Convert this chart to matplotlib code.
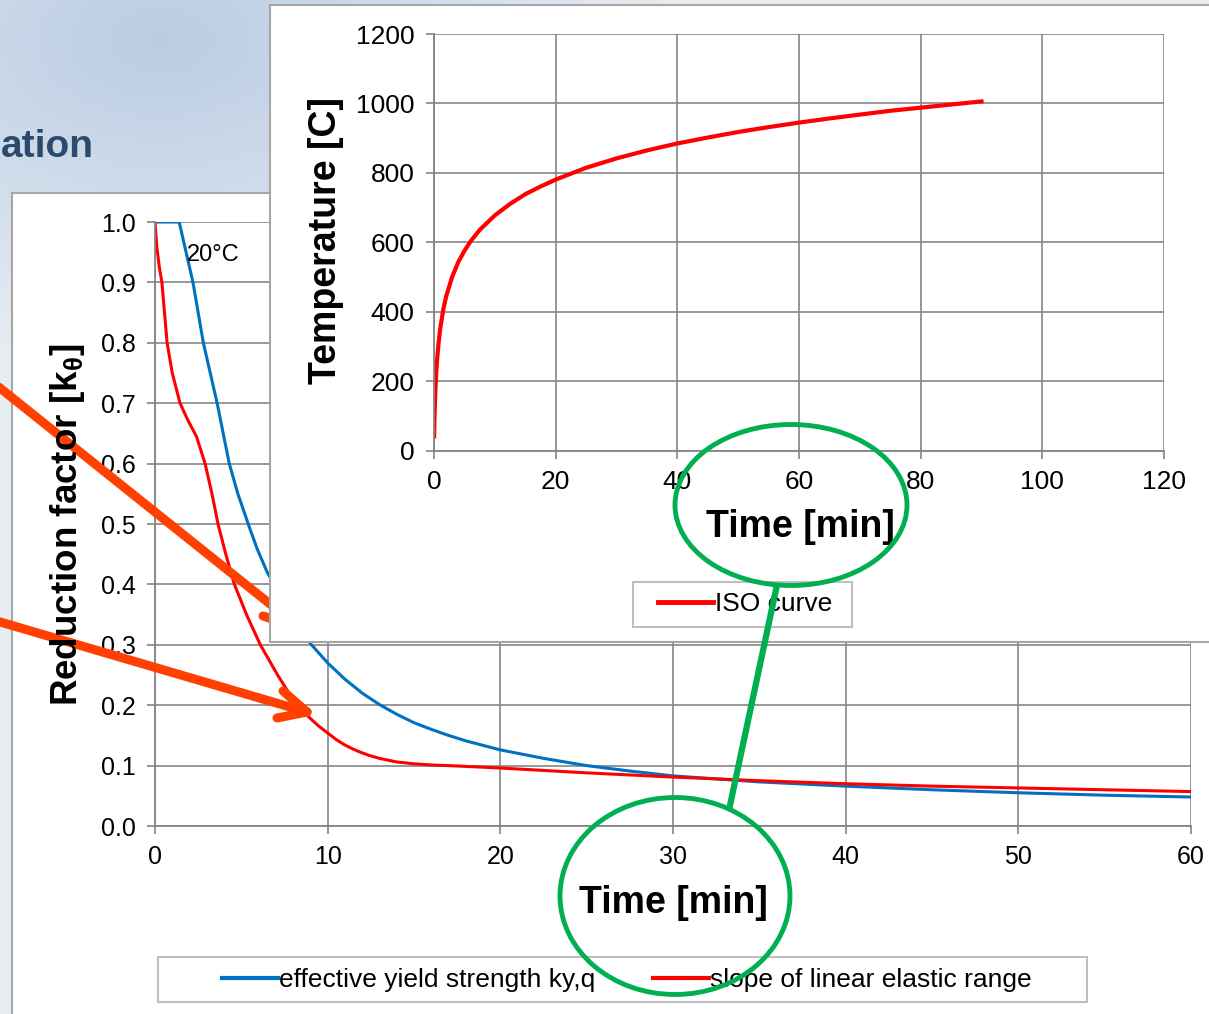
import matplotlib
matplotlib.use('Agg')
import matplotlib.pyplot as plt
import numpy as np
from matplotlib.patches import Rectangle, Ellipse
from matplotlib.ticker import FormatStrFormatter, MultipleLocator

plt.rcParams['font.family'] = ['Liberation Sans', 'DejaVu Sans']
plt.rcParams['mathtext.fontset'] = 'custom'
plt.rcParams['mathtext.bf'] = 'Liberation Sans:bold'
plt.rcParams['mathtext.rm'] = 'Liberation Sans:bold'
plt.rcParams['mathtext.it'] = 'Liberation Sans:bold'

# main chart: reduction factors vs time (min)
time_ky = [0, 1.4, 1.8, 2.2, 2.8, 3.2, 3.6, 3.95, 4.3, 4.8, 5.4, 5.9, 6.5, 7.3, 8.0, 9.0,
           10, 11, 12, 13, 14, 15, 16, 17, 18, 20, 22.5, 25, 27.5, 30, 35, 40, 45, 50,
           55, 60]
ky = [1.0, 1.0, 0.95, 0.9, 0.8, 0.75, 0.7, 0.65, 0.6, 0.55, 0.5, 0.46, 0.42, 0.38, 0.345,
      0.302, 0.27, 0.243, 0.22, 0.201, 0.185, 0.171, 0.16, 0.15, 0.141, 0.126, 0.112,
      0.1, 0.091, 0.083, 0.073, 0.066, 0.06, 0.055, 0.051, 0.048]

time_ke = [0, 0.1, 0.25, 0.4, 0.55, 0.7, 1.0, 1.45, 1.9, 2.4, 2.9, 3.3, 3.65, 4.1, 4.6,
           5.3, 6.1, 7.1, 8.2, 9.0, 9.5, 10, 10.5, 11, 11.5, 12, 12.5, 13, 13.5, 14, 15,
           16, 17, 20, 25, 30, 35, 40, 45, 50, 55, 60]
ke = [1.0, 0.96, 0.925, 0.9, 0.85, 0.8, 0.75, 0.7, 0.672, 0.645, 0.6, 0.55, 0.5, 0.45,
      0.4, 0.35, 0.3, 0.25, 0.2, 0.178, 0.165, 0.154, 0.143, 0.134, 0.127, 0.121, 0.116,
      0.112, 0.109, 0.106, 0.103, 0.101, 0.1, 0.096, 0.088, 0.081, 0.075, 0.07, 0.066,
      0.063, 0.06, 0.057]

# inset: ISO fire curve
time_iso = [0.02, 0.05, 0.1, 0.15, 0.25, 0.35, 0.5, 0.75, 1, 1.5, 2, 3, 4, 5, 6, 7.5, 10,
            12.5, 15, 17.5, 20, 25, 30, 35, 40, 45, 50, 55, 60, 65, 70, 75, 80, 85, 90]
temp_iso = [42, 70, 108, 138, 185, 220, 261, 310, 349, 405, 445, 502, 544, 576, 603, 636,
            678, 711, 739, 761, 781, 815, 842, 865, 885, 902, 918, 932, 945, 957, 968,
            979, 988, 997, 1006]

main_xticks = [0, 10, 20, 30, 40, 50, 60]
inset_xticks = [0, 20, 40, 60, 80, 100, 120]
inset_yticks = [0, 200, 400, 600, 800, 1000, 1200]

W, H = 1209, 1014
grid_c = '#858585'
frame_c = '#BFBFBF'
blue = '#0070C0'
red = '#FF0000'
orange = '#FF4000'
green = '#00B050'


def fbox(l, t, r, b):
    return [l / W, 1 - b / H, (r - l) / W, (b - t) / H]


def style_axes(ax, fs):
    for s in ['top', 'right']:
        ax.spines[s].set_visible(False)
    for s in ['left', 'bottom']:
        ax.spines[s].set_color(grid_c)
        ax.spines[s].set_linewidth(1.3)
    ax.grid(True, color=grid_c, linewidth=1.2)
    ax.set_axisbelow(True)
    ax.tick_params(direction='out', length=6, width=1.2, color=grid_c,
                   labelsize=fs, pad=8)
    ax.set_facecolor('none')


fig = plt.figure(figsize=(W / 100, H / 100), dpi=100)

# background slide + chart panels
bg = fig.add_axes([0, 0, 1, 1], zorder=0)
bg.axis('off')
yy, xx = np.mgrid[0:H, 0:W]
s = np.clip(np.sqrt(((xx - 160) / 520.0) ** 2 + ((yy - 40) / 330.0) ** 2), 0, 1)
dark = np.array([0.73, 0.80, 0.89])
light = np.array([0.91, 0.93, 0.95])
img = dark[None, None, :] * (1 - s[..., None]) + light[None, None, :] * s[..., None]
bg.imshow(img, extent=(0, W, H, 0), aspect='auto')
bg.set_xlim(0, W)
bg.set_ylim(H, 0)
bg.text(1, 157, 'ation', fontsize=28, fontweight='bold', color='#2C4A6E',
        ha='left', va='baseline')
bg.add_patch(Rectangle((12, 193), 1220, 840, facecolor='white', edgecolor='#A6A6A6',
                       linewidth=1.5))
# legend frame of the main chart
bg.add_patch(Rectangle((158, 957), 929, 45, facecolor='white', edgecolor=frame_c,
                       linewidth=1.5))

# main chart
ax = fig.add_axes(fbox(155, 222, 1191, 826), zorder=1)
ax.plot(time_ky, ky, color=blue, linewidth=2.2, label='effective yield strength ky,q')
ax.plot(time_ke, ke, color=red, linewidth=2.2, label='slope of linear elastic range')
ax.set_xlim(0, 60)
ax.set_ylim(0, 1.0)
ax.set_xticks(main_xticks)
ax.yaxis.set_major_locator(MultipleLocator(0.1))
ax.yaxis.set_major_formatter(FormatStrFormatter('%.1f'))
style_axes(ax, 18)
ax.text(1.85, 0.945, '20°C', fontsize=17, ha='left', va='center')
leg = ax.legend(loc='center', bbox_to_anchor=(627 / W, 1 - 980 / H),
                bbox_transform=fig.transFigure, ncol=2, fontsize=19, frameon=False,
                handlelength=2.1, handletextpad=0.05, columnspacing=2.2,
                borderpad=0.45, borderaxespad=0)
for ln in leg.get_lines():
    ln.set_linewidth(3)
fig.text(673 / W, 1 - 903 / H, 'Time [min]', fontsize=27, fontweight='bold',
         ha='center', va='center')
fig.text(68 / W, 1 - 525 / H, r'Reduction factor [k$_{\theta}$]', fontsize=26.5,
         fontweight='bold', rotation=90, ha='center', va='center')

# orange arrows (behind the inset)
ov1 = fig.add_axes([0, 0, 1, 1], zorder=2)
ov1.set_xlim(0, W)
ov1.set_ylim(H, 0)
ov1.axis('off')
ov1.plot([-10, 300], [380, 628], color=orange, linewidth=6.5, solid_capstyle='round')
ov1.plot([300, 263], [628, 616], color=orange, linewidth=6.5, solid_capstyle='round')
ov1.plot([-10, 307], [619, 712], color=orange, linewidth=6.5, solid_capstyle='round')
ov1.plot([307, 283], [712, 691], color=orange, linewidth=6.5, solid_capstyle='round')
ov1.plot([307, 277], [712, 718], color=orange, linewidth=6.5, solid_capstyle='round')
ov1.add_patch(Rectangle((270, 5), 960, 637, facecolor='white', edgecolor='#A6A6A6',
                        linewidth=1.5, zorder=5))
# legend frame of the inset
ov1.add_patch(Rectangle((633, 582), 219, 45, facecolor='white', edgecolor=frame_c,
                        linewidth=1.5, zorder=6))

# inset chart: ISO curve
ax2 = fig.add_axes(fbox(434, 34, 1164, 451), zorder=3)
ax2.plot(time_iso, temp_iso, color=red, linewidth=3, label='ISO curve')
ax2.set_xlim(0, 120)
ax2.set_ylim(0, 1200)
ax2.set_xticks(inset_xticks)
ax2.set_yticks(inset_yticks)
style_axes(ax2, 19)
leg2 = ax2.legend(loc='center', bbox_to_anchor=(745 / W, 1 - 604 / H),
                  bbox_transform=fig.transFigure, fontsize=19, frameon=False,
                  handlelength=2.1, handletextpad=0.05, borderpad=0.4, borderaxespad=0)
for ln in leg2.get_lines():
    ln.set_linewidth(3.5)
fig.text(800 / W, 1 - 527 / H, 'Time [min]', fontsize=27, fontweight='bold',
         ha='center', va='center', zorder=4)
fig.text(326 / W, 1 - 241 / H, 'Temperature [C]', fontsize=27, fontweight='bold',
         rotation=90, ha='center', va='center', zorder=4)

# green highlight marks
ov2 = fig.add_axes([0, 0, 1, 1], zorder=5)
ov2.set_xlim(0, W)
ov2.set_ylim(H, 0)
ov2.axis('off')
ov2.add_patch(Ellipse((791, 505), 232, 161, fill=False, edgecolor=green, linewidth=3.5))
ov2.add_patch(Ellipse((675, 896), 230, 197, fill=False, edgecolor=green, linewidth=3.5))
ov2.plot([777, 729], [585, 810], color=green, linewidth=4.5, solid_capstyle='butt')

fig.savefig('out.png', dpi=100)
